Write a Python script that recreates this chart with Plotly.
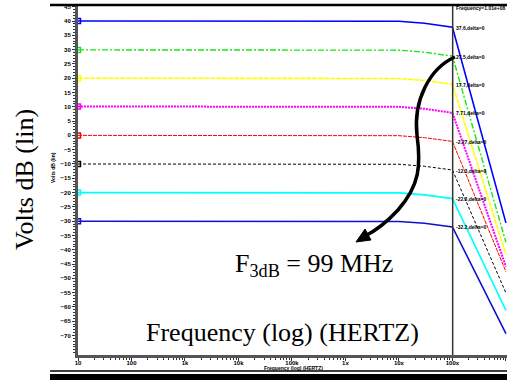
import math
import plotly.graph_objects as go

# ---------------- data ----------------
freq = [10, 1e6, 1e7, 3e7, 1e8, 1e9]
v_p40 = [40.0, 40.0, 39.9, 39.2, 37.8, -30.6]
v_p30 = [29.9, 29.9, 29.8, 29.1, 27.7, -37.4]
v_p20 = [20.0, 20.0, 19.9, 19.2, 17.9, -41.7]
v_p10 = [10.1, 10.1, 10.0, 9.3, 7.9, -45.9]
v_0 = [0.0, 0.0, -0.1, -0.8, -2.1, -47.7]
v_m10 = [-10.0, -10.0, -10.1, -10.8, -12.1, -55.1]
v_m20 = [-20.0, -20.0, -20.1, -20.8, -22.1, -61.2]
v_m30 = [-30.0, -30.0, -30.1, -30.7, -32.0, -69.3]

cursor_freq = 1.01e8
cursor_vals = [37.6, 27.5, 17.7, 7.71, -2.27, -12.3, -22.3, -32.2]
cursor_text = ["37.6", "27.5", "17.7", "7.71", "-2.27", "-12.3", "-22.3", "-32.2"]

x_tickvals = [10, 100, 1e3, 1e4, 1e5, 1e6, 1e7, 1e8, 1e9]
x_ticktext = ["10", "100", "1k", "10k", "100k", "1x", "10x", "100x", "1g"]
y_tickvals = list(range(45, -71, -5))

series = [
    (v_p40, "#0000ff", "solid", 1.6),
    (v_p30, "#19e619", "6px,2px,2px,2px", 1.4),
    (v_p20, "#ffff00", "5px,1px", 1.6),
    (v_p10, "#ff00ff", "2px,1px", 2.0),
    (v_0, "#ff0000", "4px,1px", 1.0),
    (v_m10, "#000000", "3px,2px", 1.0),
    (v_m20, "#00ffff", "solid", 1.6),
    (v_m30, "#1010d0", "solid", 1.6),
]

# ---------------- layout geometry ----------------
W, H = 507, 380
PL, PR, PT, PB = 78, 507, 5, 355


def px(x):
    return (x - PL) / (PR - PL)


def py(y):
    return (PB - y) / (PB - PT)


fig = go.Figure()
for vals, col, dash, w in series:
    fig.add_trace(go.Scatter(x=freq, y=vals, mode="lines",
                             line=dict(color=col, dash=dash, width=w),
                             showlegend=False, hoverinfo="skip"))
    fig.add_trace(go.Scatter(x=[freq[0]], y=[vals[0]], mode="markers",
                             marker=dict(color=col, size=5, symbol="square-open",
                                         line=dict(width=1.5, color=col)),
                             showlegend=False, hoverinfo="skip", cliponaxis=False))

YMIN, YMAX = -76.8, 45.6
# cursor line
fig.add_trace(go.Scatter(x=[cursor_freq, cursor_freq], y=[YMIN, YMAX], mode="lines",
                         line=dict(color="#333333", width=1.5),
                         showlegend=False, hoverinfo="skip"))

minor_x = [m * 10 ** d for d in range(1, 9) for m in range(2, 10)]

fig.update_layout(
    width=W, height=H,
    margin=dict(l=PL, r=W - PR, t=PT, b=H - PB, autoexpand=False),
    paper_bgcolor="white", plot_bgcolor="white",
    xaxis=dict(type="log", range=[1, 9.02], tickvals=x_tickvals, ticktext=x_ticktext,
               automargin=False, ticklabelstandoff=-3,
               showgrid=False, zeroline=False, showline=True, linecolor="#555555",
               linewidth=3, ticks="outside", ticklen=3, tickcolor="#333333",
               tickfont=dict(family="Liberation Sans", size=6, color="black", weight="bold"),
               minor=dict(tickvals=minor_x, ticks="outside", ticklen=2, tickcolor="#333333")),
    yaxis=dict(range=[YMIN, YMAX], tickvals=y_tickvals, automargin=False,
               showgrid=False, zeroline=False, showline=True, linecolor="#555555",
               linewidth=3, ticks="outside", ticklen=3, tickcolor="#333333",
               tickfont=dict(family="Liberation Sans", size=6, color="black", weight="bold"),
               minor=dict(dtick=1, ticks="outside", ticklen=2, tickcolor="#333333")),
)

ann = []
serif = dict(family="Liberation Serif", size=26, color="black")
C = dict(xanchor="center", yanchor="middle", showarrow=False, xref="paper", yref="paper")
ann.append(dict(x=px(24), y=py(179), text="Volts dB (lin)", textangle=-90, font=serif, **C))
ann.append(dict(x=px(314), y=py(265), text="F<sub>3dB</sub> = 99 MHz", font=serif, **C))
ann.append(dict(x=px(282), y=py(332), text="Frequency (log) (HERTZ)", font=serif, **C))
small = dict(family="Liberation Sans", size=5, color="black", weight="bold")
ann.append(dict(x=px(53), y=py(168), text="Volts dB (lin)", textangle=-90, font=small, **C))
ann.append(dict(x=px(293), y=py(368), text="Frequency (log) (HERTZ)", font=small, **C))
ann.append(dict(x=math.log10(cursor_freq), y=py(8), xref="x", yref="paper",
                text="Frequency=1.01e+08", showarrow=False, xanchor="left", yanchor="middle",
                xshift=1, font=small))
for v, t in zip(cursor_vals, cursor_text):
    ann.append(dict(x=math.log10(cursor_freq), y=v, xref="x", yref="y",
                    text=t + ",delta=0", showarrow=False, xanchor="left", yanchor="middle",
                    xshift=1, font=small))
fig.update_layout(annotations=ann)


def P(x, y):
    return f"{px(x):.5f},{py(y):.5f}"


arrow_path = ("M " + P(455, 57) + " C " + P(430, 68) + " " + P(413, 100) + " " + P(417, 135)
              + " C " + P(421, 165) + " " + P(420, 185) + " " + P(398, 210)
              + " C " + P(386, 223) + " " + P(375, 231) + " " + P(365, 236))
head_path = "M " + P(356, 242) + " L " + P(371, 240) + " L " + P(365, 229) + " Z"

shapes = [
    dict(type="path", xref="paper", yref="paper", path=arrow_path,
         line=dict(color="black", width=3.5)),
    dict(type="path", xref="paper", yref="paper", path=head_path,
         fillcolor="black", line=dict(color="black", width=1)),
    dict(type="line", xref="paper", yref="paper", x0=px(50), x1=px(507), y0=py(5), y1=py(5),
         line=dict(color="black", width=2.5)),
    dict(type="line", xref="paper", yref="paper", x0=px(50), x1=px(507), y0=py(371), y1=py(371),
         line=dict(color="black", width=1.5)),
    dict(type="rect", xref="paper", yref="paper", x0=px(50), x1=px(507), y0=py(374), y1=py(381),
         fillcolor="black", line=dict(width=0)),
]
fig.update_layout(shapes=shapes)

fig.write_html("out.html", config={"displayModeBar": False},
               post_script="document.body.style.margin='0';document.body.style.overflow='hidden';")
